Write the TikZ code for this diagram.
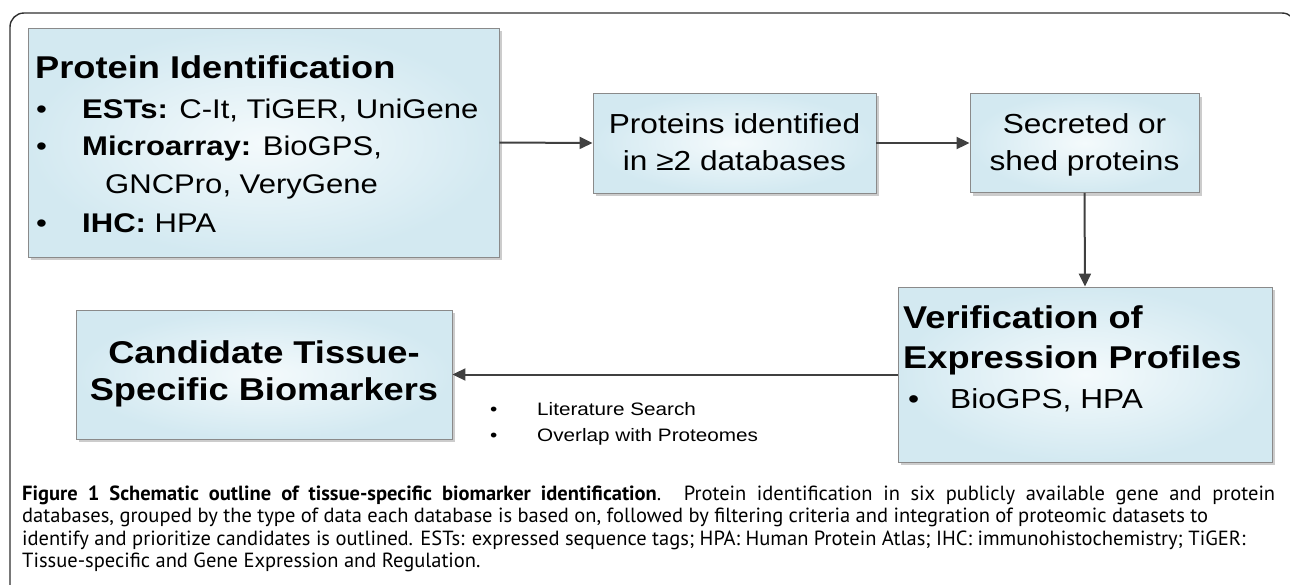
\documentclass[tikz,border=0pt]{standalone}
\usepackage{fontspec}
\setmainfont{Liberation Sans}
\newfontfamily\bx[FakeStretch=1.15]{Liberation Sans}
\newfontfamily\capfont{PT Sans}
\usetikzlibrary{arrows.meta,shadows}
\definecolor{boxin}{HTML}{F4FAFC}
\definecolor{boxout}{HTML}{D3E9F1}
\definecolor{boxborder}{HTML}{8A8A8A}
\definecolor{arrowcol}{HTML}{404040}
\definecolor{framecol}{HTML}{303030}
\begin{document}
\begin{tikzpicture}[x=1pt,y=-1pt,
  bbox/.style={rectangle, draw=boxborder, line width=0.9pt, inner sep=0pt,
    inner color=boxin, outer color=boxout,
    drop shadow={shadow xshift=3pt, shadow yshift=-3pt, fill=black!20, opacity=1}},
  arr/.style={draw=arrowcol, line width=2pt, -{Triangle[length=13pt,width=12pt]}},
  head/.style={inner sep=0pt, font=\bx\fontsize{31.5}{36}\selectfont\bfseries},
  item/.style={inner sep=0pt, font=\bx\fontsize{27}{32}\selectfont},
  mid/.style={inner sep=0pt, font=\bx\fontsize{27.5}{32}\selectfont},
  small/.style={inner sep=0pt, font=\bx\fontsize{18}{22}\selectfont},
  captext/.style={inner sep=0pt, anchor=base west, font=\capfont\fontsize{20.5}{23}\selectfont}]
\useasboundingbox (0,0) rectangle (1290,584);
\begin{scope}
\clip (0,0) rectangle (1290,584);
\draw[framecol, line width=1.4pt, rounded corners=14pt] (10,600) -- (10,13) -- (1296,13) -- (1296,600);
\end{scope}

% boxes
\node[bbox, minimum width=471pt, minimum height=229pt] (b1) at (263.5,142.5) {};
\node[bbox, minimum width=283pt, minimum height=100pt] (b2) at (734.5,143) {};
\node[bbox, minimum width=229pt, minimum height=99pt] (b3) at (1084.5,143) {};
\node[bbox, minimum width=374pt, minimum height=175pt] (b4) at (1085,374.5) {};
\node[bbox, minimum width=376pt, minimum height=129pt] (b5) at (264,374.5) {};

% box 1 text
\node[head, anchor=base west] (t1) at (35,78) {Protein Identification};
\node[item, anchor=base west] (u1) at (36,118) {•};
\node[item, anchor=base west] (l1) at (82,118) {\textbf{ESTs:} C-It, TiGER, UniGene};
\node[item, anchor=base west] (u2) at (36,155) {•};
\node[item, anchor=base west] (l2) at (82,155) {\textbf{Microarray:} BioGPS,};
\node[item, anchor=base west] (l3) at (105,193) {GNCPro, VeryGene};
\node[item, anchor=base west] (u3) at (36,232) {•};
\node[item, anchor=base west] (l4) at (82,232) {\textbf{IHC:} HPA};

% box 2, 3 text
\node[mid, anchor=base] (t2a) at (734.5,133) {Proteins identified};
\node[mid, anchor=base] (t2b) at (734.5,170) {in ≥2 databases};
\node[mid, anchor=base] (t3a) at (1084.5,133) {Secreted or};
\node[mid, anchor=base] (t3b) at (1084.5,170) {shed proteins};

% box 4 text
\node[head, anchor=base west] (t4a) at (903,328) {Verification of};
\node[head, anchor=base west] (t4b) at (903,368) {Expression Profiles};
\node[mid, anchor=base west] (u4) at (908,408) {•};
\node[mid, anchor=base west] (t4c) at (950,408) {BioGPS, HPA};

% box 5 text
\node[head, anchor=base] (t5a) at (264,363) {Candidate Tissue-};
\node[head, anchor=base] (t5b) at (264,400) {Specific Biomarkers};

% filter labels
\node[small, anchor=base west] (u5) at (490,415) {•};
\node[small, anchor=base west] (f1) at (537,415) {Literature Search};
\node[small, anchor=base west] (u6) at (490,441) {•};
\node[small, anchor=base west] (f2) at (537,441) {Overlap with Proteomes};

% connectors
\draw[arr] (b1.east) -- (b2.west);
\draw[arr] (b2.east) -- (b3.west);
\draw[arr] (b3.south) -- (b4.north);
\draw[arr] (b4.west) -- (b5.east);

% caption
\node[captext] (c1) at (22,500) {\makebox[1253pt][s]{\textbf{Figure 1 Schematic outline of tissue-specific biomarker identification}. Protein identification in six publicly available gene and protein}};
\node[captext] (c2) at (22,522.5) {databases, grouped by the type of data each database is based on, followed by filtering criteria and integration of proteomic datasets to};
\node[captext] (c3) at (22,545) {identify and prioritize candidates is outlined. ESTs: expressed sequence tags; HPA: Human Protein Atlas; IHC: immunohistochemistry; TiGER:};
\node[captext] (c4) at (22,567.5) {Tissue-specific and Gene Expression and Regulation.};
\end{tikzpicture}
\end{document}
